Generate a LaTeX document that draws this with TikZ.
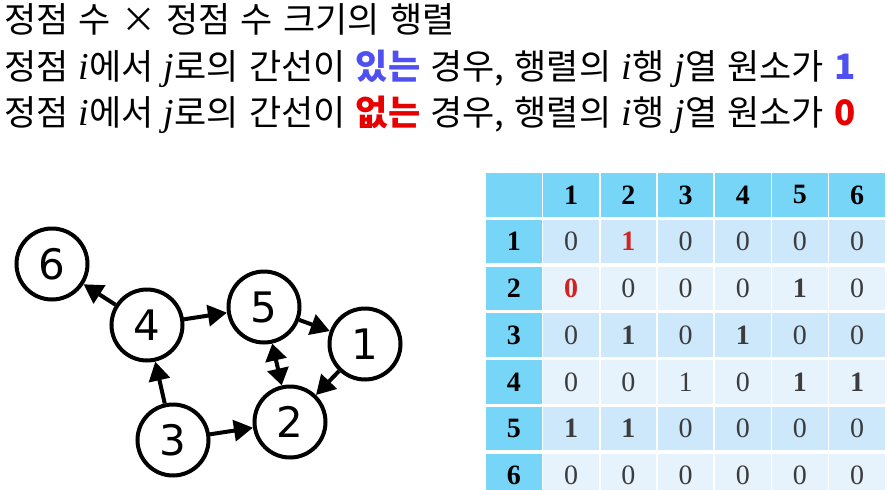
\documentclass[tikz,border=0pt]{standalone}
\usepackage{fontspec}
\setmainfont{Liberation Serif}
\newfontfamily\kr[WordSpace=1.3]{Noto Sans CJK KR}
\newfontfamily\tms{Liberation Serif}
\newfontfamily\dvs{DejaVu Sans}
\usetikzlibrary{arrows.meta}
\definecolor{hdr}{RGB}{119,213,248}
\definecolor{rowA}{RGB}{205,231,251}
\definecolor{rowB}{RGB}{230,243,253}
\definecolor{blu}{RGB}{80,80,240}
\definecolor{redt}{RGB}{230,0,0}
\definecolor{redc}{RGB}{210,35,30}
\definecolor{valc}{RGB}{60,60,60}
\newcommand{\Zv}{0}
\newcommand{\Bv}{\bfseries 1}
\newcommand{\Nv}{1}
\newcommand{\RBv}{\color{redc}\bfseries 1}
\newcommand{\RZv}{\color{redc}\bfseries 0}
\newcommand{\ii}{{\tms\itshape\fontsize{38}{40}\selectfont i}}
\newcommand{\jj}{{\tms\itshape\fontsize{38}{40}\selectfont j}}
\begin{document}
\begin{tikzpicture}[x=1pt,y=-1pt,
  txt/.style={anchor=base west,inner sep=0pt,font=\kr\fontsize{35}{40}\selectfont},
  vtx/.style={circle,draw,line width=4pt,minimum size=71pt,inner sep=0pt,fill=white,font=\dvs\fontsize{42}{48}\selectfont},
  edge/.style={line width=4pt,-{Triangle[length=19pt,width=21pt]}},
  cell/.style={minimum width=55.5pt,minimum height=43.5pt,inner sep=0pt,anchor=north west,font=\tms\fontsize{28}{32}\selectfont},
  hcell/.style={cell,fill=hdr,font=\tms\bfseries\fontsize{28}{32}\selectfont},
  vcell/.style={cell,text=valc}]
\useasboundingbox (0,0) rectangle (887,490);
% text lines
\node[txt] (l1) at (4,32) {정점 수 × 정점 수 크기의 행렬};
\node[txt] (l2) at (4,79) {정점 \ii 에서 \jj 로의 간선이 {\bfseries\color{blu}있는} 경우, 행렬의 \ii 행 \jj 열 원소가 {\bfseries\color{blu}1}};
\node[txt] (l3) at (4,125) {정점 \ii 에서 \jj 로의 간선이 {\bfseries\color{redt}없는} 경우, 행렬의 \ii 행 \jj 열 원소가 {\bfseries\color{redt}0}};
% graph
\node[vtx] (n6) at (52,264) {6};
\node[vtx] (n4) at (147,325) {4};
\node[vtx] (n5) at (264,307) {5};
\node[vtx] (n1) at (365,344) {1};
\node[vtx] (n2) at (290,422) {2};
\node[vtx] (n3) at (173,440) {3};
\draw[edge] (n4) -- (n6);
\draw[edge] (n4) -- (n5);
\draw[edge] (n5) -- (n1);
\draw[edge] (n1) -- (n2);
\draw[line width=4pt,{Triangle[length=17pt,width=21pt]}-{Triangle[length=17pt,width=21pt]}] (n5) -- (n2);
\draw[edge] (n3) -- (n4);
\draw[edge] (n3) -- (n2);
% table header
\node[hcell] (h-0) at (486,173) {};
\foreach \c in {1,...,6} {
  \node[hcell] (h-\c) at ({486+57.2*\c},173) {\c};
}
\foreach \r in {1,...,6} {
  \node[hcell] (r-\r) at (486,{219.5+46.8*(\r-1)}) {\r};
}
\foreach \v [count=\c] in {\Zv,\RBv,\Zv,\Zv,\Zv,\Zv}
  \node[vcell,fill=rowA] (c-1-\c) at ({486+57.2*\c},219.5) {\v};
\foreach \v [count=\c] in {\RZv,\Zv,\Zv,\Zv,\Bv,\Zv}
  \node[vcell,fill=rowB] (c-2-\c) at ({486+57.2*\c},266.3) {\v};
\foreach \v [count=\c] in {\Zv,\Bv,\Zv,\Bv,\Zv,\Zv}
  \node[vcell,fill=rowA] (c-3-\c) at ({486+57.2*\c},313.1) {\v};
\foreach \v [count=\c] in {\Zv,\Zv,\Nv,\Zv,\Bv,\Bv}
  \node[vcell,fill=rowB] (c-4-\c) at ({486+57.2*\c},359.9) {\v};
\foreach \v [count=\c] in {\Bv,\Bv,\Zv,\Zv,\Zv,\Zv}
  \node[vcell,fill=rowA] (c-5-\c) at ({486+57.2*\c},406.7) {\v};
\foreach \v [count=\c] in {\Zv,\Zv,\Zv,\Zv,\Zv,\Zv}
  \node[vcell,fill=rowB] (c-6-\c) at ({486+57.2*\c},453.5) {\v};
\end{tikzpicture}
\end{document}
